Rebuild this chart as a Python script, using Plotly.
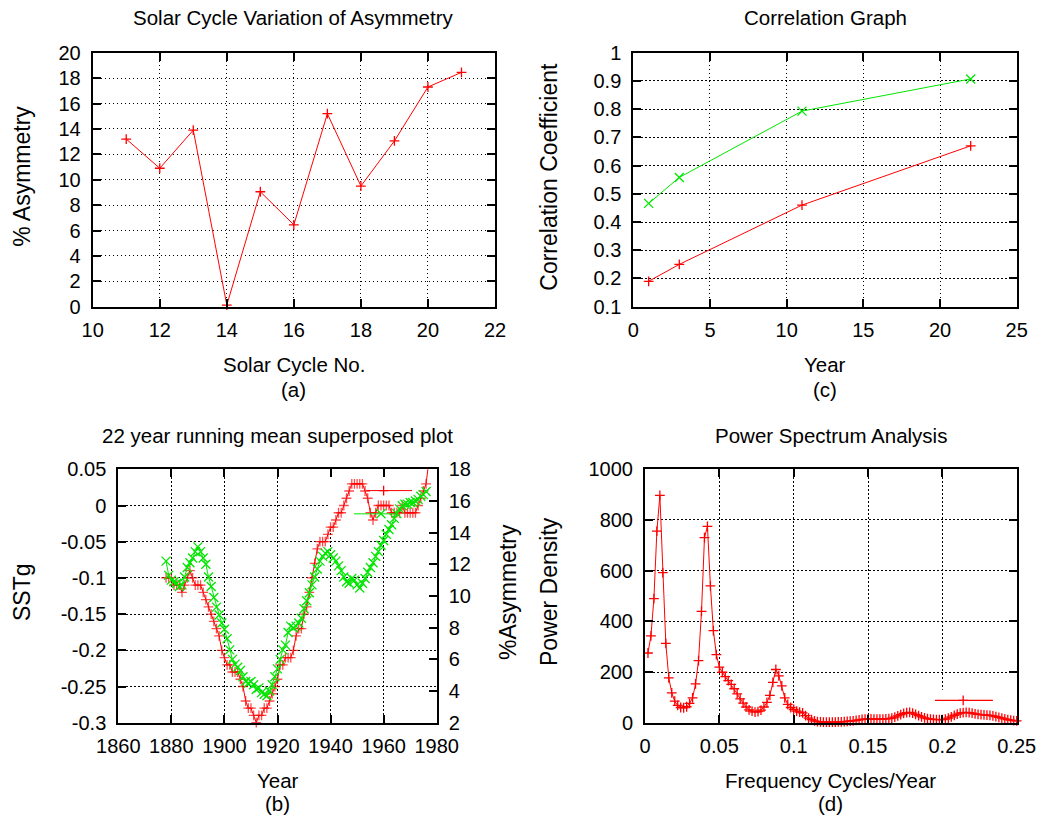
import plotly.graph_objects as go

# ---------------- (a) Solar cycle variation of asymmetry ----------------
cycle_no = [11, 12, 13, 14, 15, 16, 17, 18, 19, 20, 21]
asym_pct = [13.2, 10.9, 13.9, 0.13, 9.05, 6.45, 15.2, 9.5, 13.05, 17.3, 18.45]

# ---------------- (c) Correlation graph ----------------
corr_year = [1, 3, 11, 22]
corr_red = [0.19, 0.25, 0.46, 0.67]
corr_green = [0.466, 0.558, 0.793, 0.907]

# ---------------- (b) 22 year running mean superposed ----------------
years_sst = list(range(1878, 1978))
sstg = [
    -0.10, -0.10, -0.10, -0.11, -0.11, -0.11, -0.12, -0.11, -0.10, -0.09,
    -0.10, -0.11, -0.11, -0.11, -0.12, -0.13, -0.14, -0.15, -0.16, -0.17,
    -0.18, -0.20, -0.21, -0.22, -0.22, -0.23, -0.23, -0.23, -0.24, -0.25,
    -0.27, -0.28, -0.28, -0.29, -0.30, -0.29, -0.29, -0.28, -0.28, -0.27,
    -0.26, -0.25, -0.24, -0.22, -0.22, -0.21, -0.21, -0.21, -0.20, -0.18,
    -0.17, -0.17, -0.15, -0.14, -0.12, -0.10, -0.08, -0.06, -0.05, -0.05,
    -0.05, -0.04, -0.03, -0.03, -0.02, -0.01, -0.01, 0.00, 0.01, 0.02,
    0.03, 0.03, 0.03, 0.03, 0.03, 0.02, 0.01, -0.01, -0.02, -0.01,
    0.00, 0.00, 0.00, 0.00, 0.00, -0.01, -0.01, -0.01, -0.01, 0.00,
    -0.01, -0.01, -0.01, -0.01, -0.01, 0.00, 0.01, 0.02, 0.03, 0.06,
]
years_asym = list(range(1878, 1977))
asym_run = [
    12.2, 11.3, 11.0, 10.9, 10.8, 10.6, 10.7, 11.2, 11.8, 12.1,
    12.4, 12.8, 13.1, 12.8, 12.4, 12.0, 11.2, 10.6, 9.9, 9.3,
    8.8, 8.3, 7.9, 7.3, 6.6, 6.0, 5.7, 5.5, 5.3, 4.9,
    4.6, 4.5, 4.6, 4.4, 4.1, 4.2, 3.9, 3.8, 3.7, 4.0,
    4.4, 4.9, 5.4, 6.0, 6.6, 6.9, 7.7, 8.1, 8.0, 8.1,
    8.3, 8.6, 9.2, 9.7, 10.2, 10.7, 11.2, 11.7, 12.2, 12.5,
    12.7, 12.8, 12.6, 12.4, 12.2, 11.9, 11.6, 11.2, 10.9, 10.8,
    11.1, 11.0, 10.7, 10.5, 10.8, 11.1, 11.5, 11.8, 12.1, 12.5,
    12.8, 13.2, 13.5, 13.9, 14.2, 14.5, 14.9, 15.2, 15.5, 15.7,
    15.8, 15.8, 15.9, 15.9, 16.0, 16.1, 16.3, 16.4, 16.6,
]
# key samples of panel (b)
key_b_red_x = [1953.4, 1970.7]
key_b_red_y = [0.0206, 0.0206]
key_b_red_pt = [1960.0]
key_b_green_x = [1948.8, 1965.3]
key_b_green_y = [-0.0115, -0.0115]
key_b_green_pt = [1959.0]

# ---------------- (d) Power spectrum ----------------
freq = [
    0.002, 0.004, 0.006, 0.008, 0.010, 0.012, 0.014, 0.016, 0.018, 0.020,
    0.022, 0.024, 0.026, 0.028, 0.030, 0.032, 0.034, 0.036, 0.038, 0.040,
    0.042, 0.044, 0.046, 0.048, 0.050, 0.052, 0.054, 0.056, 0.058, 0.060,
    0.062, 0.064, 0.066, 0.068, 0.070, 0.072, 0.074, 0.076, 0.078, 0.080,
    0.082, 0.084, 0.086, 0.088, 0.090, 0.092, 0.094, 0.096, 0.098, 0.100,
    0.102, 0.104, 0.106, 0.108, 0.110, 0.112, 0.114, 0.116, 0.118, 0.120,
    0.122, 0.124, 0.126, 0.128, 0.130, 0.132, 0.134, 0.136, 0.138, 0.140,
    0.142, 0.144, 0.146, 0.148, 0.150, 0.152, 0.154, 0.156, 0.158, 0.160,
    0.162, 0.164, 0.166, 0.168, 0.170, 0.172, 0.174, 0.176, 0.178, 0.180,
    0.182, 0.184, 0.186, 0.188, 0.190, 0.192, 0.194, 0.196, 0.198, 0.200,
    0.202, 0.204, 0.206, 0.208, 0.210, 0.212, 0.214, 0.216, 0.218, 0.220,
    0.222, 0.224, 0.226, 0.228, 0.230, 0.232, 0.234, 0.236, 0.238, 0.240,
    0.242, 0.244, 0.246, 0.248, 0.250,
]
power = [
    275, 343, 490, 756, 897, 592, 313, 177, 118, 85,
    68, 60, 59, 63, 76, 98, 153, 245, 439, 730,
    775, 540, 363, 269, 219, 199, 182, 166, 151, 134,
    114, 94, 77, 62, 51, 46, 42, 44, 50, 62,
    80, 108, 159, 210, 185, 145, 98, 72, 60, 52,
    46, 42, 39, 28, 18, 12, 7, 4, 3, 2,
    2, 2, 2, 2, 3, 3, 4, 5, 6, 7,
    9, 11, 13, 14, 15, 15, 14, 14, 14, 14,
    15, 16, 18, 22, 27, 32, 37, 40, 41, 38,
    33, 28, 23, 19, 16, 14, 13, 12, 12, 12,
    14, 18, 23, 29, 34, 38, 40, 41, 40, 38,
    35, 33, 32, 31, 30, 29, 27, 24, 21, 18,
    15, 12, 10, 8, 7,
]
key_d_x = [0.195, 0.234]
key_d_y = [88, 88]
key_d_pt = [0.214]

# ---------------- tick definitions ----------------
a_xticks = [10, 12, 14, 16, 18, 20, 22]
a_yticks = [0, 2, 4, 6, 8, 10, 12, 14, 16, 18, 20]
c_xticks = [0, 5, 10, 15, 20, 25]
c_yticks = [0.1, 0.2, 0.3, 0.4, 0.5, 0.6, 0.7, 0.8, 0.9, 1.0]
c_yticktext = ["0.1", "0.2", "0.3", "0.4", "0.5", "0.6", "0.7", "0.8", "0.9", "1"]
b_xticks = [1860, 1880, 1900, 1920, 1940, 1960, 1980]
b_yticks = [-0.3, -0.25, -0.2, -0.15, -0.1, -0.05, 0, 0.05]
b_yticktext = ["-0.3", "-0.25", "-0.2", "-0.15", "-0.1", "-0.05", "0", "0.05"]
b_y2ticks = [2, 4, 6, 8, 10, 12, 14, 16, 18]
d_xticks = [0, 0.05, 0.1, 0.15, 0.2, 0.25]
d_xticktext = ["0", "0.05", "0.1", "0.15", "0.2", "0.25"]
d_yticks = [0, 200, 400, 600, 800, 1000]

RED = "#ff0000"
GREEN = "#00e600"
FONT = "Liberation Sans"
FS = 20
FS_TXT = 20.5
FS_Y = 23
W, H = 1050, 817


def px(x):
    return x / W


def py(y):
    return 1 - y / H


fig = go.Figure()

plus = dict(symbol="cross-thin", size=7, line=dict(width=1.3, color=RED), color=RED)
plus_d = dict(symbol="cross-thin", size=7, line=dict(width=1.3, color=RED), color=RED)
xm = dict(symbol="x-thin", size=9, line=dict(width=1.3, color=GREEN), color=GREEN)

# (a)
fig.add_trace(go.Scatter(x=cycle_no, y=asym_pct, mode="lines+markers",
                         line=dict(color=RED, width=1), marker=plus,
                         xaxis="x", yaxis="y", cliponaxis=False))
# (c)
fig.add_trace(go.Scatter(x=corr_year, y=corr_red, mode="lines+markers",
                         line=dict(color=RED, width=1), marker=plus,
                         xaxis="x2", yaxis="y2", cliponaxis=False))
fig.add_trace(go.Scatter(x=corr_year, y=corr_green, mode="lines+markers",
                         line=dict(color=GREEN, width=1), marker=xm,
                         xaxis="x2", yaxis="y2", cliponaxis=False))
# (b)
sst_sizes = [7 if v <= 0.05 else 0 for v in sstg]
fig.add_trace(go.Scatter(x=years_sst, y=sstg, mode="lines+markers",
                         line=dict(color=RED, width=1),
                         marker=dict(symbol="cross-thin", size=sst_sizes,
                                     line=dict(width=1.3, color=RED), color=RED),
                         xaxis="x3", yaxis="y3", cliponaxis=False))
fig.add_trace(go.Scatter(x=key_b_red_x, y=key_b_red_y, mode="lines",
                         line=dict(color=RED, width=1), xaxis="x3", yaxis="y3"))
fig.add_trace(go.Scatter(x=key_b_red_pt, y=key_b_red_y[:1], mode="markers",
                         marker=plus, xaxis="x3", yaxis="y3"))
fig.add_trace(go.Scatter(x=key_b_green_x, y=key_b_green_y, mode="lines",
                         line=dict(color=GREEN, width=1), xaxis="x3", yaxis="y3"))
fig.add_trace(go.Scatter(x=key_b_green_pt, y=key_b_green_y[:1], mode="markers",
                         marker=xm, xaxis="x3", yaxis="y3"))
fig.add_trace(go.Scatter(x=years_asym, y=asym_run, mode="lines+markers",
                         line=dict(color=GREEN, width=1), marker=xm,
                         xaxis="x3", yaxis="y4", cliponaxis=False))
# (d)
fig.add_trace(go.Scatter(x=freq, y=power, mode="lines+markers",
                         line=dict(color=RED, width=1), marker=plus_d,
                         xaxis="x4", yaxis="y5", cliponaxis=False))
fig.add_trace(go.Scatter(x=key_d_x, y=key_d_y, mode="lines",
                         line=dict(color=RED, width=1.2), xaxis="x4", yaxis="y5"))
fig.add_trace(go.Scatter(x=key_d_pt, y=key_d_y[:1], mode="markers",
                         marker=plus_d, xaxis="x4", yaxis="y5"))

common = dict(
    showline=True, linewidth=2, linecolor="black",
    ticks="inside", ticklen=8, tickwidth=1.5, tickcolor="black",
    showgrid=True, gridcolor="#000000", gridwidth=1.2, griddash="1.5px,2.5px",
    zeroline=False, automargin=False,
    tickfont=dict(family=FONT, size=FS, color="black"),
    ticklabelstandoff=6,
)
xcommon = dict(common, ticklabelstandoff=4)

# domains from pixel edges
A_X = [px(92.7), px(495)]
C_X = [px(633.3), px(1016.7)]
B_X = [px(118.3), px(436.7)]
D_X = [px(645), px(1016.7)]
TOP_Y = [py(306.7), py(52.7)]
BOT_Y = [py(722.7), py(469.3)]

fig.update_layout(
    width=W, height=H, margin=dict(l=0, r=0, t=0, b=0, autoexpand=False),
    paper_bgcolor="white", plot_bgcolor="white", showlegend=False,
    xaxis=dict(xcommon, domain=A_X, anchor="y", range=[10, 22], tickvals=a_xticks, mirror="ticks"),
    yaxis=dict(common, domain=TOP_Y, anchor="x", range=[0, 20], tickvals=a_yticks, mirror="ticks"),
    xaxis2=dict(xcommon, domain=C_X, anchor="y2", range=[0, 25], tickvals=c_xticks, mirror="ticks"),
    yaxis2=dict(common, domain=TOP_Y, anchor="x2", range=[0.1, 1.0], tickvals=c_yticks,
                ticktext=c_yticktext, mirror="ticks"),
    xaxis3=dict(xcommon, domain=B_X, anchor="y3", range=[1860, 1980], tickvals=b_xticks, mirror="ticks"),
    yaxis3=dict(common, domain=BOT_Y, anchor="x3", range=[-0.3, 0.05], tickvals=b_yticks,
                ticktext=b_yticktext, mirror=False),
    yaxis4=dict(common, domain=BOT_Y, anchor="x3", overlaying="y3", side="right",
                range=[2, 18], tickvals=b_y2ticks, showgrid=False, mirror=False),
    xaxis4=dict(xcommon, domain=D_X, anchor="y5", range=[0, 0.25], tickvals=d_xticks,
                ticktext=d_xticktext, mirror="ticks"),
    yaxis5=dict(common, domain=BOT_Y, anchor="x4", range=[0, 1000], tickvals=d_yticks, mirror="ticks"),
)

# key boxes hide the grid behind them
fig.add_shape(type="rect", xref="x3", yref="y3", x0=1939, x1=1980, y0=-0.03, y1=0.05,
              fillcolor="white", line=dict(width=0), layer="between")
fig.add_shape(type="rect", xref="x4", yref="y5", x0=0.17, x1=0.25, y0=0, y1=130,
              fillcolor="white", line=dict(width=0), layer="between")


def label(text, x, y, angle=0, size=FS_TXT):
    fig.add_annotation(text=text, x=px(x), y=py(y), xref="paper", yref="paper",
                       xanchor="center", yanchor="middle", showarrow=False,
                       textangle=angle, font=dict(family=FONT, size=size, color="black"))


# titles
label("Solar Cycle Variation of Asymmetry", 293.8, 18)
label("Correlation Graph", 825, 18)
label("22 year running mean superposed plot", 277.5, 435)
label("Power Spectrum Analysis", 830.8, 435)
# x labels
label("Solar Cycle No.", 293.8, 365)
label("(a)", 293.8, 389)
label("Year", 825, 365)
label("(c)", 825, 389)
label("Year", 277.5, 780)
label("(b)", 277.5, 803)
label("Frequency Cycles/Year", 830.8, 780)
label("(d)", 830.8, 803)
# y labels
label("% Asymmetry", 22, 176.7, -90, FS_Y)
label("Correlation Coefficient", 549, 176.7, -90, FS_Y)
label("SSTg", 22, 592, -90, FS_Y)
label("%Asymmetry", 508, 592, -90, FS_Y)
label("Power Density", 549, 592, -90, FS_Y)

fig.write_html("out.html", config={"displayModeBar": False},
               post_script="document.body.style.margin='0px';document.body.style.overflow='hidden';")
